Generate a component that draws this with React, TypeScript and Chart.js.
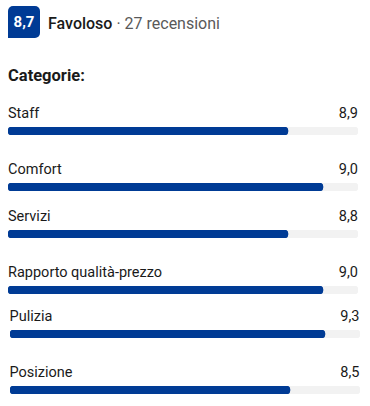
import React, { useEffect, useRef } from "react";
import { Chart, registerables } from "chart.js";

Chart.register(...registerables);

// ---- data ----
const overallScore = "8,7";
const ratingWord = "Favoloso";
const reviewCount = "27 recensioni";
const sectionTitle = "Categorie:";
const categories = ["Staff", "Comfort", "Servizi", "Rapporto qualità-prezzo", "Pulizia", "Posizione"];
const scoreLabels = ["8,9", "9,0", "8,8", "9,0", "9,3", "8,5"];
const barValues = [8, 9, 8, 9, 9, 8];
const scaleMax = 10;

// ---- layout ----
const rowBarTop = [127, 183, 230, 286, 330, 386];
const rowIndent = [0, 0, 0, 0, 1.5, 1.5];
const FONT = "'Segoe UI', Roboto, 'Noto Sans', sans-serif";
const BLUE = "#003b95";
const TRACK = "#f2f2f2";

function RowBar({ label, value }: { label: string; value: number }) {
  const ref = useRef<HTMLCanvasElement | null>(null);
  useEffect(() => {
    if (!ref.current) return;
    const chart = new Chart(ref.current, {
      type: "bar",
      data: {
        labels: [label],
        datasets: [
          {
            data: [value],
            backgroundColor: BLUE,
            borderRadius: 4,
            borderSkipped: false,
            barPercentage: 1,
            categoryPercentage: 1,
            grouped: false,
            order: 0,
          } as any,
          {
            data: [scaleMax],
            backgroundColor: TRACK,
            borderRadius: 4,
            borderSkipped: false,
            barPercentage: 1,
            categoryPercentage: 1,
            grouped: false,
            order: 1,
          } as any,
        ],
      },
      options: {
        indexAxis: "y",
        animation: false,
        responsive: false,
        events: [],
        layout: { padding: 0 },
        plugins: { legend: { display: false }, tooltip: { enabled: false } },
        scales: {
          x: { display: false, min: 0, max: scaleMax },
          y: { display: false },
        },
      },
    });
    return () => chart.destroy();
  }, [label, value]);
  return <canvas ref={ref} width={350} height={8} style={{ display: "block", width: 350, height: 8 }} />;
}

export default function App() {
  return (
    <div
      style={{
        position: "fixed",
        left: 0,
        top: 0,
        width: 370,
        height: 406,
        background: "#fff",
        fontFamily: FONT,
        color: "#1a1a1a",
      }}
    >
      <div
        style={{
          position: "absolute",
          left: 8,
          top: 6,
          width: 32,
          height: 32,
          background: BLUE,
          borderRadius: "5px 5px 5px 0",
          color: "#fff",
          fontWeight: 700,
          fontSize: 15,
          lineHeight: "32px",
          textAlign: "center",
        }}
      >
        {overallScore}
      </div>
      <div
        style={{
          position: "absolute",
          left: 48,
          top: 13,
          fontSize: 16,
          lineHeight: "22px",
          whiteSpace: "nowrap",
        }}
      >
        <span style={{ fontWeight: 500, color: "#1a1a1a" }}>{ratingWord}</span>
        <span style={{ color: "#595959" }}>{" · " + reviewCount}</span>
      </div>
      <div
        style={{
          position: "absolute",
          left: 8,
          top: 65,
          fontSize: 16.5,
          fontWeight: 700,
          lineHeight: "22px",
          whiteSpace: "nowrap",
        }}
      >
        {sectionTitle}
      </div>
      {categories.map((c, i) => (
        <React.Fragment key={c}>
          <div
            style={{
              position: "absolute",
              left: 8 + rowIndent[i],
              top: rowBarTop[i] - 23,
              width: 350,
              display: "flex",
              justifyContent: "space-between",
              fontSize: 14.5,
              lineHeight: "20px",
              whiteSpace: "nowrap",
            }}
          >
            <span>{c}</span>
            <span>{scoreLabels[i]}</span>
          </div>
          <div style={{ position: "absolute", left: 8 + rowIndent[i], top: rowBarTop[i] }}>
            <RowBar label={c} value={barValues[i]} />
          </div>
        </React.Fragment>
      ))}
    </div>
  );
}
